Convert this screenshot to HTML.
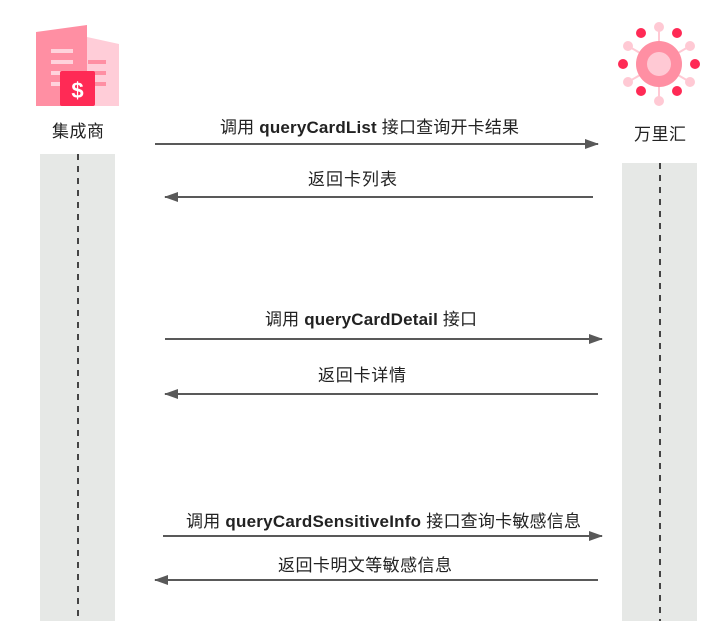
<!DOCTYPE html>
<html><head><meta charset="utf-8"><style>
html,body{margin:0;padding:0;background:#fff;}
svg{display:block;}
text{font-family:"Liberation Sans","Noto Sans CJK SC",sans-serif;font-size:17px;fill:#222;}
</style></head><body>
<svg width="724" height="621" viewBox="0 0 724 621" xmlns="http://www.w3.org/2000/svg">
<defs>
<marker id="ah" markerWidth="14" markerHeight="10" refX="13" refY="5" orient="auto" markerUnits="userSpaceOnUse">
<path d="M0,0 L14,5 L0,10 Z" fill="#595959"/>
</marker>
</defs>
<rect x="40" y="154" width="75" height="467" fill="#e6e8e6"/>
<line x1="78" y1="154" x2="78" y2="621" stroke="#444" stroke-width="2" stroke-dasharray="6,6"/>
<rect x="622" y="163" width="75" height="458" fill="#e6e8e6"/>
<line x1="660" y1="163" x2="660" y2="621" stroke="#444" stroke-width="2" stroke-dasharray="6,6"/>

<path d="M87,37 L119,44 L119,106 L87,106 Z" fill="#ffcdd8"/>
<path d="M36,32 L87,25 L87,106 L36,106 Z" fill="#ff8fa3"/>
<g fill="#ffd3dc">
<rect x="51" y="49" width="22" height="4"/>
<rect x="51" y="60" width="22" height="4"/>
<rect x="51" y="71" width="22" height="4"/>
<rect x="51" y="82" width="22" height="4"/>
<rect x="88" y="60" width="18" height="4" fill="#ff8fa3"/>
<rect x="88" y="71" width="18" height="4" fill="#ff8fa3"/>
<rect x="88" y="82" width="18" height="4" fill="#ff8fa3"/>
</g>
<rect x="60" y="71" width="35" height="35" rx="2" fill="#ff2a55"/>
<text x="77.5" y="98" text-anchor="middle" style="font-size:22px;font-weight:bold;fill:#fff">$</text>
<text x="78" y="137" text-anchor="middle" textLength="52" lengthAdjust="spacing">集成商</text>

<g stroke="#ffc9d4" stroke-width="2">
<line x1="659" y1="27" x2="659" y2="101"/>
<line x1="628" y1="46" x2="690" y2="82"/>
<line x1="690" y1="46" x2="628" y2="82"/>
</g>
<circle cx="659" cy="64" r="23" fill="#ff8fa3"/>
<circle cx="659" cy="64" r="12" fill="#ffc9d4"/>
<g fill="#ffc9d4">
<circle cx="659" cy="27" r="5"/><circle cx="659" cy="101" r="5"/>
<circle cx="628" cy="46" r="5"/><circle cx="690" cy="46" r="5"/>
<circle cx="628" cy="82" r="5"/><circle cx="690" cy="82" r="5"/>
</g>
<g fill="#ff2a55">
<circle cx="623" cy="64" r="5"/><circle cx="695" cy="64" r="5"/>
<circle cx="641" cy="33" r="5"/><circle cx="677" cy="33" r="5"/>
<circle cx="641" cy="91" r="5"/><circle cx="677" cy="91" r="5"/>
</g>
<text x="660" y="140" text-anchor="middle" textLength="52" lengthAdjust="spacing">万里汇</text>

<g stroke="#595959" stroke-width="2" marker-end="url(#ah)">
<line x1="155" y1="144" x2="598" y2="144"/>
<line x1="593" y1="197" x2="165" y2="197"/>
<line x1="165" y1="339" x2="602" y2="339"/>
<line x1="598" y1="394" x2="165" y2="394"/>
<line x1="163" y1="536" x2="602" y2="536"/>
<line x1="598" y1="580" x2="155" y2="580"/>
</g>
<text x="220" y="133" textLength="299" lengthAdjust="spacing">调用 <tspan font-weight="bold">queryCardList</tspan> 接口查询开卡结果</text>
<text x="308" y="185" textLength="89" lengthAdjust="spacing">返回卡列表</text>
<text x="265" y="325" textLength="212" lengthAdjust="spacing">调用 <tspan font-weight="bold">queryCardDetail</tspan> 接口</text>
<text x="318" y="381" textLength="88" lengthAdjust="spacing">返回卡详情</text>
<text x="186" y="527" textLength="395" lengthAdjust="spacing">调用 <tspan font-weight="bold">queryCardSensitiveInfo</tspan> 接口查询卡敏感信息</text>
<text x="278" y="571" textLength="174" lengthAdjust="spacing">返回卡明文等敏感信息</text>
</svg>
</body></html>
